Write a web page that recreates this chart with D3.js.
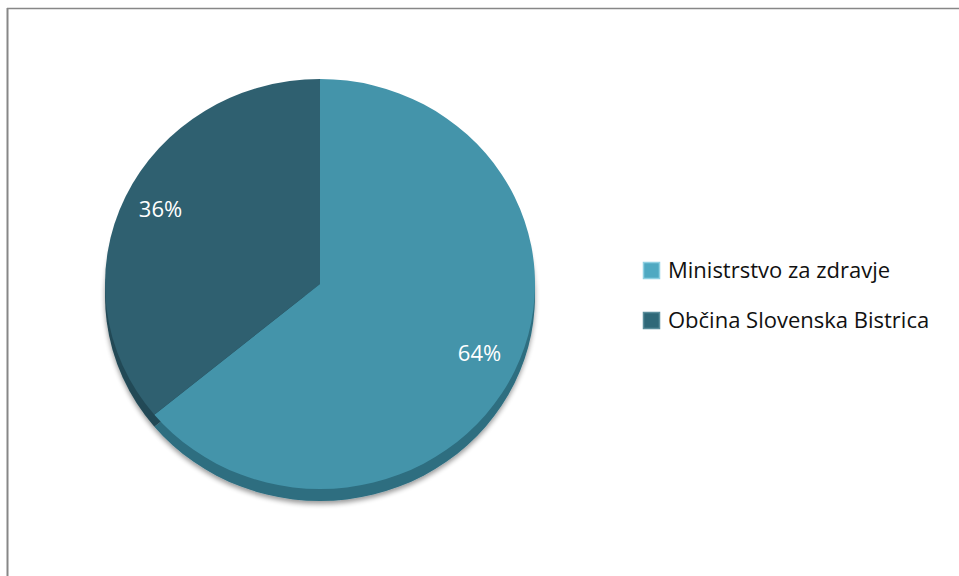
<!DOCTYPE html>
<html>
<head>
<meta charset="utf-8">
<script src="https://cdn.jsdelivr.net/npm/d3@7"></script>
<style>
  html, body { margin: 0; padding: 0; background: #fff; }
  svg { display: block; }
</style>
</head>
<body>
<div id="chart"></div>
<script>
const categories = ["Ministrstvo za zdravje", "Občina Slovenska Bistrica"];
const values = [64, 36];
const labels = ["64%", "36%"];
const colors = ["#4494aa", "#2f6070"];
const sideColors = ["#2e6e80", "#224a56"];
const swatchColors = ["#4fa9c2", "#2f6878"];

const width = 959, height = 576;
// slightly tilted pie: ellipse with a thin 3D side below
const cx = 320, cy = 284, rx = 215, ry = 205, depth = 12;
const squash = ry / rx;

const svg = d3.select("#chart").append("svg")
	.attr("width", width)
	.attr("height", height);

// frame (only top and left edges are visible)
svg.append("line").attr("x1", 7).attr("x2", width).attr("y1", 8.5).attr("y2", 8.5)
	.attr("stroke", "#878787").attr("stroke-width", 1.6);
svg.append("line").attr("x1", 7.5).attr("x2", 7.5).attr("y1", 8).attr("y2", height)
	.attr("stroke", "#878787").attr("stroke-width", 2);

const defs = svg.append("defs");
const shadow = defs.append("filter").attr("id", "shadow")
	.attr("x", "-10%").attr("y", "-10%").attr("width", "120%").attr("height", "125%");
shadow.append("feGaussianBlur").attr("in", "SourceAlpha").attr("stdDeviation", 2.5);
shadow.append("feOffset").attr("dx", 0).attr("dy", 3).attr("result", "blur");
shadow.append("feComponentTransfer").append("feFuncA").attr("type", "linear").attr("slope", 0.4);
const merge = shadow.append("feMerge");
merge.append("feMergeNode");
merge.append("feMergeNode").attr("in", "SourceGraphic");

const pie = d3.pie().sort(null).value(d => d);
const arcs = pie(values);
const arc = d3.arc().innerRadius(0).outerRadius(rx);
const labelArc = d3.arc().innerRadius(rx * 0.82).outerRadius(rx * 0.82);

// side of the pie
const sideG = svg.append("g").attr("filter", "url(#shadow)");
sideG.append("g")
	.attr("transform", `translate(${cx},${cy + depth}) scale(1,${squash})`)
	.selectAll("path")
	.data(arcs)
	.enter()
	.append("path")
	.attr("d", arc)
	.attr("fill", (d, i) => sideColors[i]);
sideG.append("rect")
	.attr("x", cx - rx).attr("width", 2 * rx)
	.attr("y", cy).attr("height", depth)
	.attr("fill", sideColors[0]);
sideG.append("rect")
	.attr("x", cx - rx).attr("width", rx * 0.77)
	.attr("y", cy).attr("height", depth)
	.attr("fill", sideColors[1]);

// top surface
const face = svg.append("g")
	.attr("transform", `translate(${cx},${cy}) scale(1,${squash})`);
face.selectAll("path")
	.data(arcs)
	.enter()
	.append("path")
	.attr("d", arc)
	.attr("fill", (d, i) => colors[i]);

svg.append("g").selectAll("text.pct")
	.data(arcs)
	.enter()
	.append("text")
	.attr("class", "pct")
	.attr("x", d => cx + labelArc.centroid(d)[0])
	.attr("y", d => cy + labelArc.centroid(d)[1] * squash - 4)
	.attr("text-anchor", "middle")
	.attr("dominant-baseline", "central")
	.attr("fill", "#fff")
	.style("font-family", "'Open Sans', sans-serif")
	.style("font-size", "22px")
	.text((d, i) => labels[i]);

// legend
const legend = svg.append("g").attr("transform", "translate(643, 262)");
const rows = legend.selectAll("g")
	.data(categories)
	.enter()
	.append("g")
	.attr("transform", (d, i) => `translate(0, ${i * 50})`);

rows.append("rect")
	.attr("x", 0.5).attr("y", 0.5)
	.attr("width", 16).attr("height", 16)
	.attr("fill", (d, i) => swatchColors[i])
	.attr("stroke", (d, i) => i === 0 ? "#8fd0e2" : "#5a8d9b")
	.attr("stroke-width", 1.5);

rows.append("text")
	.attr("x", 25)
	.attr("y", 16)
	.attr("fill", "#111")
	.style("font-family", "'Open Sans', sans-serif")
	.style("font-size", "22px")
	.text(d => d);
</script>
</body>
</html>
